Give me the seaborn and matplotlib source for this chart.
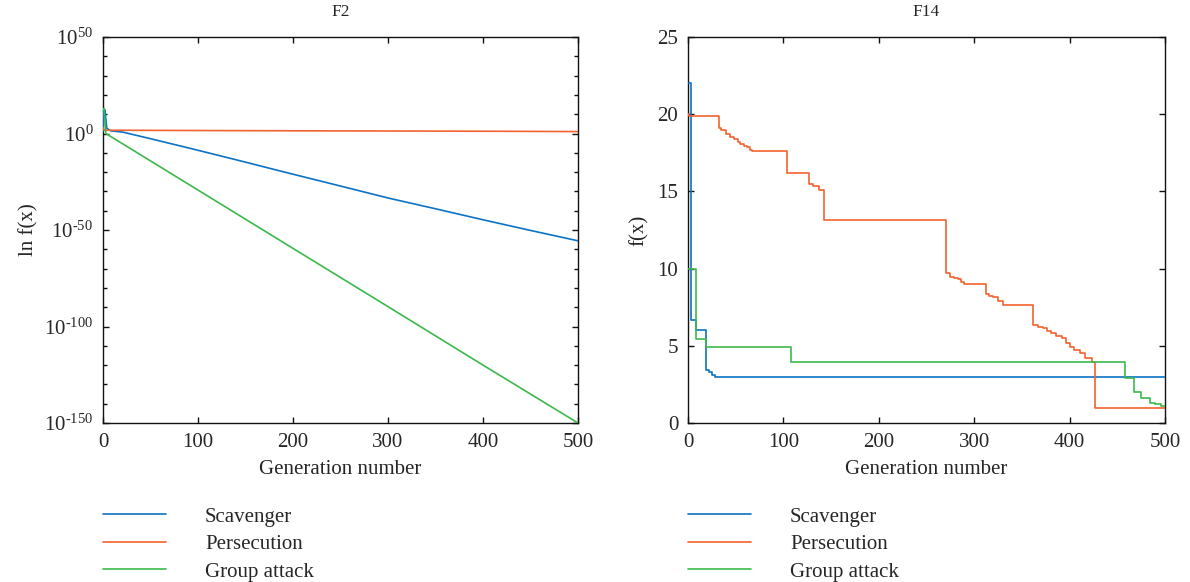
import numpy as np
import pandas as pd
import matplotlib
matplotlib.use('Agg')
import matplotlib.pyplot as plt
import seaborn as sns
from matplotlib.ticker import FixedLocator

# ---- F2 (log scale), values at a few generations
f2_scav_gen = [0, 1, 2, 4, 8, 21, 50, 91, 140, 196, 250, 301, 350, 400, 450, 500]
f2_scav_val = [1e1, 1e11, 2e12, 5e2, 2.5e1, 5e0, 2e-3, 2.5e-8, 2.5e-14,
               2.5e-21, 6e-28, 3e-34, 1e-39, 2e-45, 6e-51, 2.5e-56]
f2_pers_gen = [0, 1, 2, 100, 200, 300, 400, 500]
f2_pers_val = [1e3, 1e2, 5e1, 3.5e1, 2.5e1, 2e1, 1.5e1, 1e1]
f2_grp_gen = [0, 1, 3, 100, 200, 300, 400, 500]
f2_grp_val = [1e12, 1e13, 1e0, 5e-30, 3e-60, 2e-90, 1e-120, 1e-150]

# ---- F14 (steps), change points
f14_scav_gen = [0, 3, 8, 19, 22, 25, 28, 500]
f14_scav_val = [22.0, 6.67, 6.0, 3.43, 3.32, 3.1, 3.0, 3.0]
f14_pers_gen = [0, 1, 33, 35, 40, 44, 48, 52, 55, 59, 62, 65, 67, 104, 127, 131, 137, 143,
                270, 275, 279, 283, 286, 289, 312, 316, 320, 325, 330, 362, 367, 372, 376,
                381, 386, 392, 396, 400, 405, 411, 416, 423, 427, 500]
f14_pers_val = [20.0, 19.88, 19.1, 18.95, 18.7, 18.55, 18.4, 18.2, 18.1, 17.95, 17.85, 17.7,
                17.63, 16.2, 15.5, 15.35, 15.1, 13.15, 9.69, 9.48, 9.4, 9.3, 9.15, 9.0, 8.35,
                8.25, 8.14, 7.9, 7.64, 6.35, 6.25, 6.13, 5.95, 5.81, 5.65, 5.49, 5.2, 4.94,
                4.75, 4.51, 4.2, 3.93, 0.99, 0.99]
f14_grp_gen = [0, 8, 19, 108, 458, 467, 475, 484, 489, 496, 500]
f14_grp_val = [9.97, 5.44, 4.94, 3.97, 2.94, 2.03, 1.6, 1.31, 1.2, 1.12, 1.12]

labels = ['Scavenger', 'Persecution', 'Group attack']
colors = ['#0c72c4', '#f3622e', '#3cb94b']

sns.set_style('ticks')
plt.rcParams['font.family'] = ['Liberation Serif', 'DejaVu Serif']
plt.rcParams['mathtext.fontset'] = 'custom'
plt.rcParams['mathtext.rm'] = 'Liberation Serif'
plt.rcParams['mathtext.it'] = 'Liberation Serif:italic'

FS = 15

fig = plt.figure(figsize=(11.9, 5.82), dpi=100)
ax1 = fig.add_axes([103 / 1190, 159 / 582, 475 / 1190, 386 / 582])
ax2 = fig.add_axes([688 / 1190, 159 / 582, 477 / 1190, 386 / 582])


def style_axes(ax):
    for s in ax.spines.values():
        s.set_visible(True)
        s.set_linewidth(1.0)
        s.set_color('#111111')
    ax.tick_params(which='both', direction='in', top=True, right=True,
                   labelsize=FS, pad=7, width=1.0, color='#111111')
    ax.tick_params(which='major', length=4)
    ax.tick_params(which='minor', length=3)
    ax.set_xlim(0, 500)
    ax.set_xticks([0, 100, 200, 300, 400, 500])
    ax.set_xlabel('Generation number', fontsize=FS, labelpad=6)


# left: F2
series = [(f2_scav_gen, f2_scav_val), (f2_pers_gen, f2_pers_val), (f2_grp_gen, f2_grp_val)]
for (g, v), lab, c in zip(series, labels, colors):
    df = pd.DataFrame({'gen': g, 'val': v})
    sns.lineplot(data=df, x='gen', y='val', ax=ax1, color=c, lw=1.2,
                 label=lab, estimator=None, sort=False, zorder=3)
ax1.set_yscale('log')
ax1.set_ylim(1e-150, 1e50)
ax1.yaxis.set_major_locator(FixedLocator([1e-150, 1e-100, 1e-50, 1e0, 1e50]))
ax1.set_yticklabels([r'$10^{\text{-}150}$', r'$10^{\text{-}100}$', r'$10^{\text{-}50}$',
                     '$10^{0}$', '$10^{50}$'])
ax1.yaxis.set_minor_locator(FixedLocator([10.0 ** k for k in range(-150, 51, 10)]))
ax1.yaxis.set_minor_formatter(plt.NullFormatter())
style_axes(ax1)
ax1.set_ylabel('ln f(x)', fontsize=FS, labelpad=4)
ax1.set_title('F2', fontsize=12.5, pad=15)

# right: F14
series = [(f14_scav_gen, f14_scav_val), (f14_pers_gen, f14_pers_val), (f14_grp_gen, f14_grp_val)]
for (g, v), lab, c in zip(series, labels, colors):
    df = pd.DataFrame({'gen': g, 'val': v})
    sns.lineplot(data=df, x='gen', y='val', ax=ax2, color=c, lw=1.2,
                 label=lab, estimator=None, drawstyle='steps-post', zorder=3)
ax2.set_ylim(0, 25)
ax2.set_yticks([0, 5, 10, 15, 20, 25])
style_axes(ax2)
ax2.set_ylabel('f(x)', fontsize=FS, labelpad=6)
ax2.set_title('F14', fontsize=12.5, pad=15)

# legends below each panel
for ax, x0 in [(ax1, 103), (ax2, 688)]:
    h, l = ax.get_legend_handles_labels()
    ax.get_legend().remove()
    fig.legend(h, l, loc='upper left', bbox_to_anchor=(x0 / 1190, 1 - 507 / 582),
               frameon=False, fontsize=FS, borderpad=0, borderaxespad=0,
               handlelength=3.0, handletextpad=1.9, labelspacing=0.38)

fig.savefig('out.png', dpi=100)
